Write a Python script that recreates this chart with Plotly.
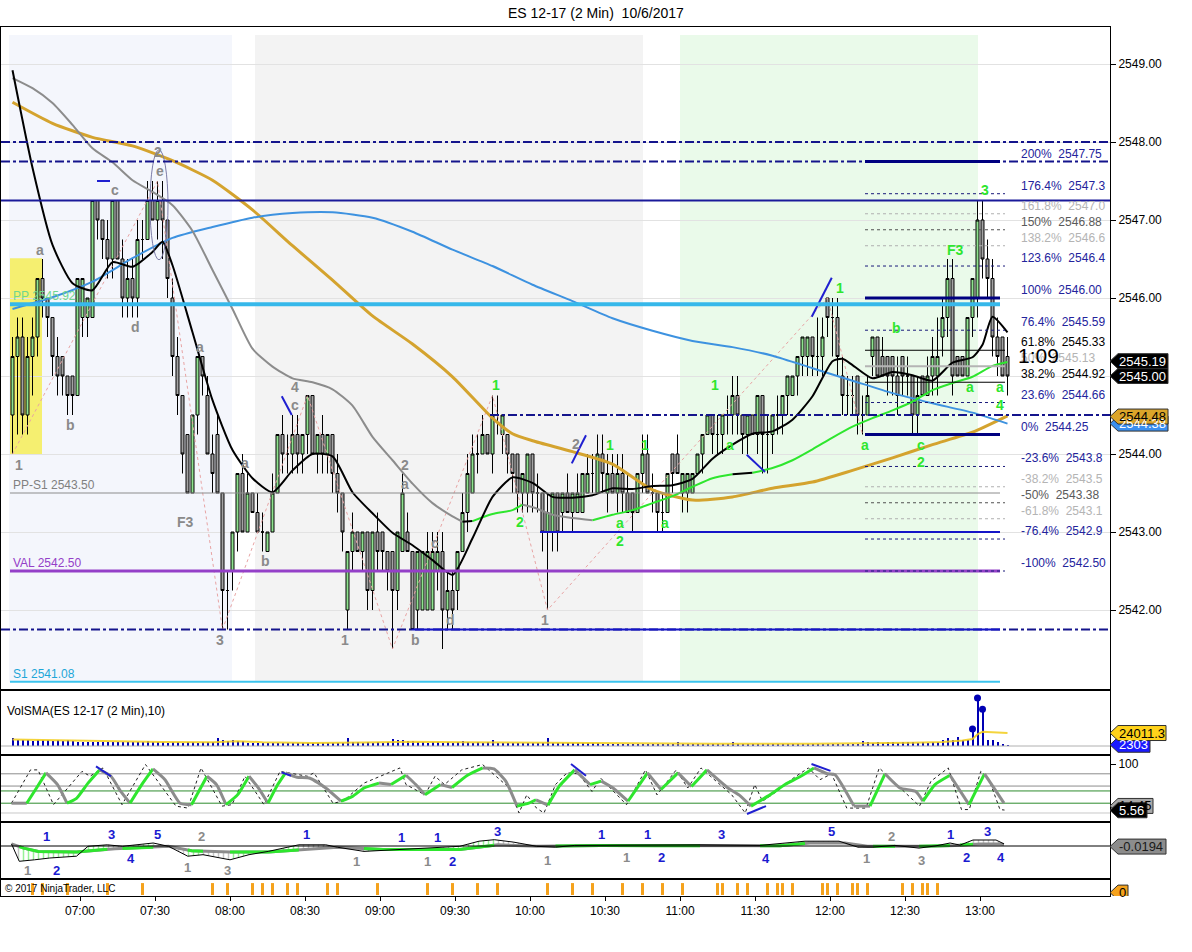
import numpy as np
import plotly.graph_objects as go
from plotly.subplots import make_subplots

FONT = "Liberation Sans, Arial, sans-serif"

# ---------------------------------------------------------------- data
opens = [
    2544.50, 2545.25, 2545.50, 2544.50, 2545.25, 2545.50, 2546.25, 2546.00, 2545.75, 2545.25,
    2545.25, 2545.00, 2545.00, 2544.75, 2545.75, 2545.75, 2545.75, 2547.25, 2547.00, 2546.75,
    2546.50, 2547.25, 2546.50, 2546.00, 2546.25, 2546.00, 2546.75, 2546.75, 2547.25, 2547.00,
    2547.25, 2547.00, 2546.00, 2545.25, 2544.75, 2544.25, 2543.50, 2544.50, 2545.25, 2544.75,
    2544.00, 2544.25, 2543.50, 2542.25, 2542.50, 2543.00, 2543.75, 2543.00, 2543.50, 2543.25,
    2543.00, 2542.75, 2543.00, 2543.50, 2544.25, 2544.00, 2544.00, 2544.25, 2544.00, 2544.25,
    2544.75, 2544.00, 2544.25, 2544.00, 2544.25, 2543.75, 2543.50, 2542.00, 2542.75, 2543.00,
    2542.75, 2543.00, 2542.25, 2543.00, 2543.00, 2542.75, 2542.75, 2542.25, 2542.75, 2543.00,
    2542.75, 2542.00, 2542.00, 2542.00, 2542.00, 2542.50, 2542.75, 2542.00, 2542.25, 2542.25,
    2542.75, 2543.25, 2543.50, 2544.00, 2544.00, 2544.25, 2544.00, 2544.50, 2544.25, 2544.25,
    2544.00, 2544.00, 2543.50, 2543.50, 2544.00, 2543.50, 2543.50, 2543.00, 2543.00, 2543.50,
    2543.25, 2543.50, 2543.25, 2543.25, 2543.25, 2543.50, 2543.75, 2543.50, 2544.00, 2543.50,
    2543.75, 2543.50, 2543.75, 2543.50, 2543.50, 2543.25, 2543.75, 2544.00, 2543.50, 2543.50,
    2543.25, 2543.25, 2544.00, 2544.00, 2543.50, 2543.50, 2543.50, 2543.75, 2544.00, 2544.25,
    2544.50, 2544.25, 2544.25, 2544.50, 2544.50, 2544.75, 2544.50, 2544.25, 2544.50, 2544.25,
    2544.75, 2544.25, 2544.25, 2544.50, 2544.50, 2544.75, 2544.75, 2545.00, 2545.25, 2545.25,
    2545.50, 2545.25, 2545.25, 2546.00, 2545.75, 2545.75, 2545.00, 2544.75, 2544.75, 2545.00,
    2544.50, 2544.50, 2545.25, 2545.50, 2545.25, 2545.25, 2545.25, 2545.00, 2545.25, 2545.00,
    2545.00, 2544.50, 2545.00, 2544.75, 2545.00, 2545.00, 2545.50, 2545.75, 2546.25, 2545.25,
    2545.25, 2545.00, 2545.75, 2546.00, 2547.00, 2546.50, 2546.25, 2545.50, 2545.50, 2545.25,
]
highs = [
    2545.50, 2545.75, 2545.75, 2545.50, 2545.75, 2546.25, 2546.50, 2546.00, 2545.75, 2545.50,
    2545.25, 2545.00, 2545.00, 2546.25, 2546.25, 2546.00, 2547.25, 2547.25, 2547.00, 2547.00,
    2547.25, 2547.25, 2546.75, 2546.50, 2546.50, 2547.00, 2547.00, 2547.50, 2547.50, 2547.50,
    2547.50, 2547.00, 2546.25, 2545.50, 2544.75, 2544.25, 2544.50, 2545.25, 2545.25, 2545.00,
    2544.25, 2544.50, 2543.50, 2542.50, 2543.00, 2543.75, 2544.00, 2543.75, 2543.50, 2543.50,
    2543.25, 2543.00, 2543.75, 2544.25, 2544.50, 2544.25, 2544.50, 2544.50, 2544.25, 2544.75,
    2544.75, 2544.25, 2544.50, 2544.25, 2544.25, 2544.00, 2543.50, 2542.75, 2543.25, 2543.00,
    2543.00, 2543.00, 2543.00, 2543.25, 2543.00, 2542.75, 2542.75, 2543.00, 2543.75, 2543.25,
    2542.75, 2542.75, 2542.75, 2543.00, 2543.00, 2543.00, 2543.00, 2542.50, 2542.50, 2542.75,
    2543.50, 2544.00, 2544.25, 2544.25, 2544.50, 2544.25, 2544.75, 2544.75, 2544.50, 2544.25,
    2544.00, 2544.00, 2543.75, 2544.00, 2544.00, 2543.75, 2543.50, 2543.50, 2543.50, 2543.50,
    2543.50, 2543.75, 2543.50, 2543.75, 2543.75, 2544.00, 2544.00, 2544.25, 2544.25, 2544.00,
    2544.00, 2544.00, 2544.00, 2543.75, 2543.50, 2543.75, 2544.25, 2544.25, 2543.75, 2543.50,
    2543.50, 2543.75, 2544.00, 2544.25, 2543.75, 2543.75, 2543.75, 2544.00, 2544.25, 2544.50,
    2544.50, 2544.50, 2544.50, 2544.75, 2545.00, 2545.00, 2544.50, 2544.50, 2544.50, 2544.75,
    2544.75, 2544.50, 2544.50, 2544.75, 2544.75, 2545.00, 2545.00, 2545.25, 2545.50, 2545.50,
    2545.50, 2545.75, 2545.75, 2546.00, 2546.00, 2546.00, 2545.25, 2545.00, 2545.00, 2545.00,
    2544.75, 2545.00, 2545.50, 2545.50, 2545.50, 2545.25, 2545.25, 2545.25, 2545.25, 2545.25,
    2545.00, 2545.00, 2545.00, 2545.25, 2545.50, 2545.75, 2546.00, 2546.50, 2546.50, 2545.25,
    2545.25, 2545.75, 2546.25, 2547.25, 2547.25, 2546.75, 2546.50, 2545.75, 2545.50, 2545.50,
]
lows = [
    2544.00, 2544.25, 2544.25, 2544.25, 2544.75, 2545.25, 2545.75, 2545.50, 2545.00, 2544.75,
    2544.75, 2544.50, 2544.50, 2544.75, 2545.50, 2545.50, 2545.75, 2546.75, 2546.50, 2546.25,
    2546.25, 2546.50, 2545.75, 2545.75, 2545.75, 2545.75, 2546.50, 2546.75, 2547.00, 2546.75,
    2546.50, 2546.00, 2545.00, 2544.50, 2543.75, 2543.50, 2543.50, 2544.25, 2544.75, 2544.00,
    2543.50, 2543.50, 2541.75, 2541.75, 2542.25, 2542.75, 2543.00, 2543.00, 2543.25, 2543.00,
    2542.75, 2542.75, 2543.00, 2543.50, 2543.75, 2543.75, 2543.75, 2543.75, 2543.75, 2544.00,
    2544.00, 2543.75, 2543.75, 2543.75, 2543.50, 2543.25, 2542.75, 2541.75, 2542.50, 2542.75,
    2542.50, 2542.00, 2542.00, 2542.50, 2542.50, 2542.25, 2541.50, 2542.00, 2542.75, 2542.75,
    2541.75, 2541.75, 2542.00, 2542.00, 2542.00, 2542.25, 2541.50, 2541.75, 2541.75, 2542.00,
    2542.75, 2543.00, 2543.50, 2543.75, 2544.00, 2544.00, 2543.75, 2544.25, 2544.00, 2543.75,
    2543.50, 2543.25, 2543.25, 2543.25, 2543.25, 2543.25, 2542.75, 2542.00, 2542.75, 2542.75,
    2543.00, 2543.25, 2543.00, 2543.25, 2543.25, 2543.50, 2543.50, 2543.50, 2543.50, 2543.25,
    2543.50, 2543.25, 2543.25, 2543.25, 2543.00, 2543.25, 2543.50, 2543.50, 2543.25, 2543.00,
    2543.00, 2543.25, 2543.50, 2543.75, 2543.25, 2543.25, 2543.50, 2543.75, 2543.75, 2544.25,
    2544.00, 2544.00, 2544.00, 2544.25, 2544.25, 2544.25, 2544.00, 2544.00, 2544.25, 2544.00,
    2543.75, 2543.75, 2544.00, 2544.25, 2544.25, 2544.50, 2544.75, 2544.75, 2545.00, 2545.00,
    2545.00, 2545.00, 2545.00, 2545.50, 2545.25, 2545.00, 2544.50, 2544.50, 2544.50, 2544.25,
    2544.25, 2544.50, 2545.00, 2545.00, 2545.00, 2544.75, 2544.75, 2544.50, 2544.75, 2544.75,
    2544.25, 2544.25, 2544.75, 2544.75, 2544.75, 2544.75, 2545.25, 2545.50, 2544.75, 2545.00,
    2545.00, 2545.00, 2545.50, 2545.75, 2546.25, 2546.00, 2545.25, 2545.00, 2545.00, 2544.75,
]
closes = [
    2545.25, 2545.50, 2544.50, 2545.25, 2545.50, 2546.25, 2546.00, 2545.75, 2545.25, 2545.00,
    2545.00, 2544.75, 2544.75, 2546.25, 2546.25, 2546.00, 2547.25, 2547.00, 2546.75, 2546.50,
    2547.25, 2546.50, 2546.00, 2546.25, 2546.00, 2546.75, 2546.75, 2547.25, 2547.00, 2547.25,
    2547.00, 2546.25, 2545.25, 2544.75, 2544.00, 2543.50, 2544.50, 2545.25, 2545.00, 2544.00,
    2543.75, 2543.50, 2542.25, 2542.25, 2543.00, 2543.75, 2543.00, 2543.50, 2543.25, 2543.00,
    2543.00, 2543.00, 2543.50, 2544.25, 2544.00, 2544.00, 2544.25, 2544.00, 2544.25, 2544.75,
    2544.00, 2544.25, 2544.00, 2544.25, 2543.75, 2543.50, 2543.00, 2542.75, 2543.00, 2542.75,
    2543.00, 2542.25, 2543.00, 2542.75, 2542.75, 2542.50, 2542.25, 2543.00, 2543.50, 2542.75,
    2541.75, 2542.75, 2542.75, 2542.75, 2542.75, 2542.75, 2542.00, 2542.25, 2542.00, 2542.75,
    2543.25, 2543.75, 2544.00, 2544.00, 2544.25, 2544.00, 2544.50, 2544.50, 2544.50, 2544.00,
    2543.75, 2543.50, 2543.75, 2544.00, 2543.50, 2543.50, 2543.00, 2543.25, 2543.50, 2543.00,
    2543.50, 2543.25, 2543.50, 2543.50, 2543.75, 2543.75, 2543.75, 2544.00, 2543.75, 2543.75,
    2543.50, 2543.75, 2543.50, 2543.25, 2543.25, 2543.75, 2544.00, 2543.50, 2543.50, 2543.25,
    2543.25, 2543.75, 2543.75, 2543.75, 2543.75, 2543.75, 2543.75, 2544.00, 2544.25, 2544.50,
    2544.25, 2544.25, 2544.50, 2544.50, 2544.75, 2544.50, 2544.25, 2544.50, 2544.25, 2544.75,
    2544.25, 2544.25, 2544.50, 2544.50, 2544.75, 2545.00, 2545.00, 2545.25, 2545.50, 2545.50,
    2545.25, 2545.25, 2545.50, 2545.75, 2545.75, 2545.25, 2544.75, 2544.75, 2544.75, 2544.50,
    2544.50, 2544.75, 2545.50, 2545.00, 2545.00, 2545.00, 2545.00, 2544.75, 2545.00, 2545.00,
    2544.50, 2544.75, 2544.75, 2545.00, 2545.25, 2545.25, 2545.75, 2546.25, 2545.00, 2545.00,
    2545.00, 2545.75, 2546.25, 2547.00, 2546.50, 2546.25, 2545.50, 2545.25, 2545.00, 2545.00,
]
volumes = [
    15000, 11000, 10500, 12000, 9800, 11500, 10200, 11000, 9500, 10800,
    10000, 11200, 9000, 7000, 7800, 6500, 8000, 7200, 6800, 7600,
    7000, 8200, 6900, 7400, 7100, 7800, 6600, 9500, 7000, 7400,
    6800, 6200, 6800, 7000, 6400, 6600, 7200, 6000, 6900, 6500,
    7100, 15000, 11000, 9800, 10500, 9500, 9000, 5400, 5800, 5000,
    5600, 5200, 5900, 5300, 5500, 5100, 5700, 5400, 6000, 5200,
    5600, 5800, 5500, 5000, 5800, 5300, 6000, 15500, 6500, 6800,
    6200, 7000, 6400, 6600, 6300, 7000, 13000, 10500, 11000, 10000,
    9000, 6500, 6800, 6200, 6600, 7000, 6300, 6700, 6400, 6900,
    9500, 6500, 6000, 6800, 6300, 6600, 11000, 5500, 5800, 5200,
    5600, 5400, 5900, 5300, 5700, 5100, 5500, 15000, 5000, 5300,
    4800, 5200, 5500, 4900, 5100, 5400, 4700, 5000, 3800, 3500,
    3900, 3600, 4000, 3400, 3700, 3900, 3500, 3800, 3600, 4100,
    3500, 3700, 3900, 6500, 3600, 3400, 3800, 3700, 4000, 3500,
    3600, 3900, 3700, 3500, 6500, 3800, 3600, 4000, 3400, 3700,
    3900, 3500, 3800, 3600, 4100, 3700, 3500, 3900, 3600, 3800,
    3700, 4000, 3500, 3800, 3600, 3900, 3700, 3500, 3800, 4500,
    9000, 6500, 6200, 6800, 6400, 6600, 7000, 6300, 6700, 6500,
    6900, 6200, 6600, 6400, 7000, 8000, 11000, 14000, 11000, 17000,
    11000, 11000, 31500, 89000, 68000, 11000, 11000, 7400, 3000, 2303,
]
volume_dot_bars = [192, 193, 194]

# moving averages: bar index -> value
ma_fast_idx = [0, 4, 8, 12, 16, 20, 24, 28, 30, 32, 36, 40, 44, 48, 52, 56, 60, 64, 68, 72,
               76, 80, 84, 88, 92, 96, 100, 104, 108, 112, 116, 120, 124, 128, 132, 136, 140, 144, 148, 152,
               156, 160, 164, 166, 168, 172, 176, 180, 184, 188, 192, 194, 196, 199]
ma_fast = [2548.92, 2547.67, 2546.68, 2546.19, 2546.10, 2546.46, 2546.40, 2546.59, 2546.72, 2546.42,
           2545.56, 2544.69, 2544.05, 2543.69, 2543.51, 2543.79, 2544.00, 2543.97, 2543.51, 2543.24,
           2542.99, 2542.83, 2542.64, 2542.45, 2542.92, 2543.45, 2543.70, 2543.63, 2543.45, 2543.44,
           2543.47, 2543.56, 2543.55, 2543.59, 2543.60, 2543.68, 2543.94, 2544.12, 2544.26, 2544.29,
           2544.44, 2544.74, 2545.19, 2545.22, 2545.14, 2544.97, 2545.05, 2545.01, 2544.94, 2545.17,
           2545.24, 2545.40, 2545.76, 2545.56]
ma_mid_idx = [0, 4, 8, 12, 16, 20, 24, 28, 32, 36, 40, 44, 48, 52, 56, 60, 64, 68, 72, 76,
              80, 84, 88, 90, 92, 96, 100, 102, 104, 108, 112, 116, 120, 124, 128, 132, 136, 140, 144, 148,
              152, 156, 160, 164, 168, 172, 176, 180, 184, 188, 192, 196, 199]
ma_mid = [2548.82, 2548.69, 2548.50, 2548.22, 2547.92, 2547.74, 2547.51, 2547.36, 2547.19, 2546.86,
          2546.36, 2545.86, 2545.35, 2545.12, 2544.97, 2544.92, 2544.83, 2544.62, 2544.22, 2543.92,
          2543.62, 2543.37, 2543.20, 2543.13, 2543.14, 2543.23, 2543.28, 2543.35, 2543.32, 2543.22,
          2543.18, 2543.15, 2543.22, 2543.28, 2543.37, 2543.46, 2543.58, 2543.69, 2543.74, 2543.76,
          2543.82, 2543.92, 2544.06, 2544.21, 2544.35, 2544.46, 2544.56, 2544.67, 2544.82, 2544.91,
          2544.99, 2545.13, 2545.18]
ma_blue_idx = [0, 8, 16, 24, 32, 40, 48, 56, 64, 72, 80, 88, 96, 104, 112, 120, 128, 136, 144, 152,
               160, 168, 176, 184, 192, 199]
ma_blue = [2545.86, 2546.01, 2546.21, 2546.51, 2546.77, 2546.91, 2547.03, 2547.09, 2547.10, 2547.03,
           2546.85, 2546.62, 2546.41, 2546.17, 2545.96, 2545.74, 2545.58, 2545.45, 2545.37, 2545.26,
           2545.10, 2544.94, 2544.78, 2544.65, 2544.53, 2544.39]
ma_gold_idx = [0, 8, 16, 24, 32, 40, 48, 56, 64, 72, 80, 88, 96, 100, 104, 112, 120, 128, 136, 144,
               152, 160, 168, 176, 184, 192, 199]
ma_gold = [2548.51, 2548.24, 2548.06, 2547.95, 2547.76, 2547.51, 2547.13, 2546.67, 2546.23, 2545.77,
           2545.41, 2544.99, 2544.46, 2544.26, 2544.17, 2544.03, 2543.87, 2543.54, 2543.41, 2543.45,
           2543.56, 2543.64, 2543.79, 2543.95, 2544.12, 2544.28, 2544.49]

# swing zigzag (bar index, price)
zz_idx = [0, 29, 42, 59, 76, 96, 107, 163, 170]
zz_price = [2544.00, 2547.50, 2541.75, 2544.75, 2541.50, 2544.75, 2542.00, 2546.00, 2544.25]

# wave labels (minute of day, price, text)
labels_gray = [(395.6, 2543.86, '1'), (404, 2546.62, 'a'), (416, 2544.37, 'b'), (434, 2547.38, 'c'),
               (442, 2545.63, 'd'), (451.2, 2547.87, '2'), (452, 2547.63, 'e'), (462, 2543.13, 'F3'),
               (468, 2545.37, 'a'), (476, 2541.62, '3'), (486, 2543.88, 'a'), (494, 2542.63, 'b'),
               (506, 2544.86, '4'), (506, 2544.63, 'c'), (526, 2541.62, '1'), (550, 2543.86, '2'),
               (550, 2543.62, 'a'), (554, 2541.62, 'b'), (562, 2542.86, 'c'), (568, 2541.87, 'd'),
               (606, 2541.87, '1'), (618.4, 2544.13, '2')]
labels_green = [(586.4, 2544.88, '1'), (596, 2543.13, '2'), (632, 2544.12, '1'), (646, 2544.12, '1'),
                (636, 2543.12, 'a'), (636, 2542.88, '2'), (654, 2543.12, 'a'), (674, 2544.88, '1'),
                (680, 2544.12, 'a'), (724, 2546.13, '1'), (746.4, 2545.62, 'b'), (734, 2544.12, 'a'),
                (756.4, 2544.12, 'c'), (756.4, 2543.90, '2'), (770, 2546.62, 'F3'), (782, 2547.38, '3'),
                (776, 2544.86, 'a'), (788, 2544.86, 'a'), (788, 2544.63, '4')]
# short blue trend marks on price panel ((t0, p0), (t1, p1))
price_marks = [((426.8, 2547.50), (432.0, 2547.50)), ((500.7, 2544.74), (504.7, 2544.50)),
               ((616.7, 2543.88), (622.4, 2544.24)), ((686.7, 2543.99), (694.0, 2543.77)),
               ((712.7, 2545.76), (720.7, 2546.26))]

# fibonacci levels
fib_pct = ['200%', '176.4%', '161.8%', '150%', '138.2%', '123.6%', '100%', '76.4%', '61.8%', '50%',
           '38.2%', '23.6%', '0%', '-23.6%', '-38.2%', '-50%', '-61.8%', '-76.4%', '-100%']
fib_text = ['2547.75', '2547.3', '2547.0', '2546.88', '2546.6', '2546.4', '2546.00', '2545.59', '2545.33',
            '2545.13', '2544.92', '2544.66', '2544.25', '2543.8', '2543.5', '2543.38', '2543.1', '2542.9',
            '2542.50']
fib_level = [2547.75, 2547.337, 2547.08, 2546.875, 2546.67, 2546.41, 2546.00, 2545.587, 2545.33, 2545.125,
             2544.92, 2544.66, 2544.25, 2543.84, 2543.58, 2543.375, 2543.17, 2542.91, 2542.50]
fib_kind = ['B', 'B', 'L', 'D', 'L', 'B', 'B', 'B', 'K', 'L', 'K', 'B', 'B', 'B', 'L', 'D', 'L', 'B', 'B']

# stochastics (minute of day, value)
stoch_t = [392.6, 398.7, 402.6, 406.4, 411, 414.8, 418.6, 423.2, 427.8, 432.4, 436.3, 440, 444.7, 449.2,
           454, 460, 464.6, 470.8, 474.6, 478.4, 483, 487.6, 491.4, 495.2, 499.1, 502.2, 506.8, 512,
           518.3, 524.4, 529, 533.6, 539.6, 544.4, 550.4, 554.3, 558, 564.2, 568.8, 575, 581.1, 585.6,
           590.3, 594.8, 599.5, 602.4, 607.2, 611.6, 617.9, 624, 628.5, 633.2, 639.2, 647, 652.4, 659.2,
           664.6, 670.8, 679.2, 683.6, 688.4, 696, 702, 708.3, 713.6, 719, 722, 729.6, 736, 742, 748,
           754.3, 757.2, 762, 768, 775.6, 781.8, 789.6]
stoch_k = [20, 20, 51, 82, 58, 20, 30, 61, 88, 75, 44, 20, 58, 90, 68, 20, 17, 75, 58, 17, 37, 75, 51, 20,
           58, 82, 73, 71, 51, 24, 34, 51, 61, 58, 77, 58, 37, 58, 52, 77, 92, 90, 65, 14, 20, 27, 16, 54,
           88, 58, 65, 51, 24, 82, 48, 82, 54, 88, 51, 37, 14, 37, 58, 75, 92, 80, 78, 14, 14, 80, 51, 44,
           24, 58, 77, 17, 80, 20]
stoch_raw_t = [392.6, 400.2, 403.2, 409.4, 420.8, 424, 429.2, 436.8, 446.2, 458.4, 463.2, 468.4, 476.8,
               480.8, 486, 493.6, 500, 511, 513.6, 521.2, 525.2, 533.6, 548, 550.4, 558, 562, 565.8, 572.7,
               581, 591.8, 595.6, 598.7, 602.6, 605.6, 610.2, 614.8, 619.4, 624.8, 628.3, 638.6, 646.2,
               650.8, 658.5, 663.1, 668.4, 680.7, 686.1, 689.9, 693, 699, 705, 711.4, 716, 720.6, 726.7,
               734.4, 739.7, 746.6, 749.7, 755.8, 760.4, 767.3, 772.6, 775.7, 780.3, 783.4, 788, 789.8]
stoch_raw = [20, 88, 88, 17, 85, 75, 92, 17, 99, 14, 10, 92, 14, 17, 75, 17, 85, 75, 82, 20, 24, 61, 92, 58,
             37, 75, 58, 88, 99, 51, 0, 37, 10, 0, 58, 82, 80, 44, 71, 17, 88, 37, 88, 51, 92, 37, 0, 58,
             24, 45, 70, 92, 68, 80, 10, 10, 92, 58, 44, 14, 65, 92, 7, 7, 85, 71, 7, 6]
stoch_marks = [((426.4, 95), (432.4, 75)), ((500.6, 83), (504.4, 76)), ((616.4, 100), (622.4, 76)),
               ((686.8, -2), (694.4, 14)), ((712.6, 100), (720.2, 86))]
stoch_levels = [(80, '#8c8c8c'), (55, '#8c8c8c'), (45, '#2e8b2e'), (20, '#2e8b2e'), (0, '#c8c8c8')]

# MACD-style oscillator (minute of day, value)
macd_t = [392.6, 395.7, 401.8, 407.9, 418.6, 423.2, 430.9, 437, 449.3, 455.4, 463.1, 469.2, 480, 487.6,
          495.3, 507.5, 518.3, 522.9, 533.6, 545.8, 556.6, 571.9, 579.6, 585.7, 593.4, 602.6, 610.2, 617.9,
          636, 668, 692, 710, 723.6, 731.2, 737.2, 746, 755.6, 762, 768, 772, 777.2, 786.4, 789.6]
macd_v = [0.07, -0.51, -0.46, -0.40, -0.34, -0.01, 0.04, -0.01, 0.10, -0.01, -0.34, -0.29, -0.46, -0.29,
          -0.18, 0.04, 0.04, -0.04, -0.18, -0.12, -0.07, -0.01, 0.16, 0.21, 0.13, -0.01, -0.04, 0.02,
          0.03, 0.04, 0.02, 0.16, 0.16, -0.04, -0.04, 0.02, -0.07, 0.0, 0.10, 0.03, 0.20, 0.20, 0.07]
signal_t = [392.6, 397.5, 403.3, 418.6, 434, 449.3, 455.4, 464.6, 480, 495.3, 510.6, 522.9, 541.2, 556.6,
            571.9, 587.2, 602.6, 628.3, 650, 700, 712, 726, 735, 760, 770, 780, 788, 789.6]
signal_v = [0.07, -0.07, -0.18, -0.2, -0.09, -0.04, -0.01, -0.16, -0.2, -0.2, -0.12, -0.04, -0.12, -0.12,
            -0.12, 0.04, -0.01, 0.02, 0.01, 0.01, 0.10, 0.10, -0.01, -0.01, 0.02, 0.07, 0.07, 0.05]
macd_labels = [(406.4, 0.33, '1', 'B'), (410.4, -0.80, '2', 'B'), (432.4, 0.37, '3', 'B'), (440.4, -0.43, '4', 'B'),
               (450.8, 0.37, '5', 'B'), (510.4, 0.37, '1', 'B'), (548.4, 0.30, '1', 'B'), (562.8, 0.30, '1', 'B'),
               (568.8, -0.50, '2', 'B'), (586.8, 0.50, '3', 'B'), (628.4, 0.37, '1', 'B'), (646.8, 0.37, '1', 'B'),
               (652.4, -0.37, '2', 'B'), (676.4, 0.40, '3', 'B'), (694.4, -0.40, '4', 'B'), (720.4, 0.47, '5', 'B'),
               (768.0, 0.40, '1', 'B'), (782.8, 0.50, '3', 'B'), (774.4, -0.37, '2', 'B'), (788.4, -0.37, '4', 'B'),
               (398.8, -0.83, '1', 'G'), (468.4, 0.33, '2', 'G'), (462.8, -0.73, '1', 'G'), (478.8, -0.80, '3', 'G'),
               (530.4, -0.50, '1', 'G'), (558.8, -0.50, '1', 'G'), (606.8, -0.47, '1', 'G'), (638.4, -0.37, '1', 'G'),
               (744.4, 0.33, '2', 'G'), (734.4, -0.43, '1', 'G'), (756.4, -0.47, '3', 'G')]

# bars that carry an orange signal mark in the bottom strip
signal_bars = [4, 6, 11, 19, 26, 40, 43, 48, 50, 52, 55, 57, 63, 65, 73, 83, 88, 93, 97, 107, 112, 116,
               122, 126, 130, 134, 141, 142, 145, 147, 151, 153, 154, 156, 162, 163, 165, 168, 169, 171,
               178, 180, 182, 183, 185]

# volume SMA samples (bar index, value)
vol_sma_idx = [0, 10, 20, 30, 40, 45, 50, 60, 70, 80, 90, 100, 110, 120, 140, 160, 170, 180, 186, 190,
               192, 193, 194, 196, 199]
vol_sma = [12000, 10500, 7800, 7200, 7000, 9000, 7000, 5500, 6500, 8000, 7000, 6500, 6200, 4500, 4000,
           4000, 4500, 6000, 7500, 10000, 13000, 21500, 26500, 25500, 24011.3]

x_tick_minutes = [420, 450, 480, 510, 540, 570, 600, 630, 660, 690, 720, 750, 780]
x_tick_text = ['07:00', '07:30', '08:00', '08:30', '09:00', '09:30', '10:00', '10:30', '11:00',
               '11:30', '12:00', '12:30', '13:00']
price_ticks = [2542, 2543, 2544, 2545, 2546, 2547, 2548, 2549]

# ---------------------------------------------------------------- geometry / layout constants
W, H = 1192, 952
ML, MR, MT, MB = 1, 82, 27, 56
PLOT_W = W - ML - MR
PLOT_H = H - MT - MB
XR = [388.4, 388.4 + PLOT_W / 2.5]
FIRST_BAR_MIN = 393
BAR_STEP = 2
bar_times = [FIRST_BAR_MIN + BAR_STEP * i for i in range(len(closes))]


def bt(i):
    return FIRST_BAR_MIN + BAR_STEP * i


panels = [(27, 690), (690, 755), (755, 822), (822, 879), (879, 896)]


def dom(a, b):
    base = H - MB
    return [(base - b) / PLOT_H, (base - a) / PLOT_H]


def paper_x(px):
    return (px - ML) / PLOT_W


def paper_y(py):
    return (H - MB - py) / PLOT_H


Y_MAIN = [2549 - (690 - 64) / 78, 2549 + (64 - 27) / 78]
Y_VOL = [-9 * 1850, 56 * 1850]
Y_STO = [-18.4, 118.4]
Y_MACD = [-1.1, 0.8]
Y_MRK = [0, 1]

C_GREEN = '#2ee62e'
C_GRAY = '#8c8c8c'
C_NAVY = '#14148c'

fig = make_subplots(rows=5, cols=1, shared_xaxes=True, vertical_spacing=0)
shapes = []
annotations = []

# ---------------------------------------------------------------- background regions
for t0, t1, col in [(391.6, 480.8, '#f4f6fc'), (490.0, 645.2, '#f3f3f3'), (660.0, 779.2, '#eafaea')]:
    shapes.append(dict(type='rect', xref='x', yref='y domain', x0=t0, x1=t1, y0=0.012, y1=0.988,
                       fillcolor=col, line=dict(width=0), layer='below'))
shapes.append(dict(type='rect', xref='x', yref='y', x0=392.0, x1=404.8, y0=2543.99, y1=2546.51,
                   fillcolor='#f5ef70', line=dict(width=0), layer='below'))

# ---------------------------------------------------------------- price panel traces
fig.add_trace(go.Candlestick(
    x=bar_times, open=opens, high=highs, low=lows, close=closes,
    increasing=dict(fillcolor='#8fe38f', line=dict(color='#000000', width=1)),
    decreasing=dict(fillcolor='#a3a3a3', line=dict(color='#000000', width=1)),
    whiskerwidth=0, showlegend=False, hoverinfo='skip'), row=1, col=1)

# zigzag
fig.add_trace(go.Scatter(x=[bt(i) for i in zz_idx], y=zz_price, mode='lines',
                         line=dict(color='#e8a4a4', width=1, dash='dot'), hoverinfo='skip'), row=1, col=1)


def add_line(idx, vals, color, width, row=1):
    fig.add_trace(go.Scatter(x=[bt(i) for i in idx], y=vals, mode='lines',
                             line=dict(color=color, width=width, shape='spline', smoothing=0.6),
                             hoverinfo='skip'), row=row, col=1)


add_line(ma_gold_idx, ma_gold, '#d4a32e', 3)
add_line(ma_blue_idx, ma_blue, '#3d92e0', 2)


def slope_runs(ts, vs, tol):
    runs = []
    def sgn(k):
        d = vs[k + 1] - vs[k]
        return 1 if d > tol else (-1 if d < -tol else 0)
    cur = sgn(0)
    start = 0
    for k in range(1, len(ts) - 1):
        s = sgn(k)
        if s != cur:
            runs.append((cur, start, k))
            start, cur = k, s
    runs.append((cur, start, len(ts) - 1))
    return runs


mid_t = [bt(i) for i in ma_mid_idx]
for s, a, b in slope_runs(mid_t, ma_mid, 0.025):
    col = C_GREEN if s > 0 else (C_GRAY if s < 0 else '#000000')
    fig.add_trace(go.Scatter(x=mid_t[a:b + 1], y=ma_mid[a:b + 1], mode='lines',
                             line=dict(color=col, width=2, shape='spline', smoothing=0.6),
                             hoverinfo='skip'), row=1, col=1)

add_line(ma_fast_idx, ma_fast, '#000000', 2)

# short blue trend marks
for (t0, p0), (t1, p1) in price_marks:
    fig.add_trace(go.Scatter(x=[t0, t1], y=[p0, p1], mode='lines', line=dict(color='#1f1fd0', width=2),
                             hoverinfo='skip'), row=1, col=1)

# ellipse around wave 2
shapes.append(dict(type='circle', xref='x', yref='y', x0=448.0, x1=455.2, y0=2546.49, y1=2547.90,
                   line=dict(color='#7c7ca8', width=1)))

# horizontal levels
XMIN, XMAX = XR
levels = [
    (2548.00, XMIN, XMAX, C_NAVY, 2, 'dashdot'),
    (2547.75, XMIN, XMAX, C_NAVY, 2, 'dashdot'),
    (2547.25, XMIN, XMAX, '#1a1a9a', 2, 'solid'),
    (2545.92, 392.0, 788.0, '#36b8ea', 4, 'solid'),
    (2544.50, 584.0, XMAX, C_NAVY, 2, 'dashdot'),
    (2543.50, 392.0, 788.0, '#8c8c8c', 1, 'solid'),
    (2543.00, 604.0, 788.0, '#1414c8', 2, 'solid'),
    (2542.50, 392.0, 788.0, '#9440c8', 3, 'solid'),
    (2541.75, XMIN, XMAX, C_NAVY, 2, 'dashdot'),
    (2541.75, 552.8, 788.0, '#1414c8', 2, 'solid'),
    (2541.08, 392.0, 788.0, '#3cc4ee', 2, 'solid'),
]
for p, t0, t1, col, w, dash in levels:
    shapes.append(dict(type='line', xref='x', yref='y', x0=t0, x1=t1, y0=p, y1=p,
                       line=dict(color=col, width=w, dash=dash)))

# fibonacci lines
kind_color = {'B': '#23239c', 'K': '#000000', 'D': '#5a5a5a', 'L': '#b4b4b4'}
for pct, txt, lv, kd in zip(fib_pct, fib_text, fib_level, fib_kind):
    if pct in ('200%', '100%', '0%'):
        shapes.append(dict(type='line', xref='x', yref='y', x0=734.0, x1=788.0, y0=lv, y1=lv,
                           line=dict(color='#000080', width=3)))
    elif pct in ('61.8%', '38.2%'):
        shapes.append(dict(type='line', xref='x', yref='y', x0=734.0, x1=790.0, y0=lv, y1=lv,
                           line=dict(color='#000000', width=1)))
    elif pct == '50%':
        shapes.append(dict(type='line', xref='x', yref='y', x0=734.0, x1=790.0, y0=lv, y1=lv,
                           line=dict(color='#b4b4b4', width=2)))
    else:
        lc = {'B': '#1a1a7a', 'K': '#000000', 'D': '#505050', 'L': '#b0b0b0'}[kd]
        shapes.append(dict(type='line', xref='x', yref='y', x0=734.0, x1=790.0, y0=lv, y1=lv,
                           line=dict(color=lc, width=1, dash='dot')))
    annotations.append(dict(xref='x', yref='y', x=796.0, y=lv, xanchor='left', yanchor='bottom',
                            text=pct + '\u00a0\u00a0' + txt, showarrow=False, borderpad=0,
                            font=dict(family=FONT, size=12, color=kind_color[kd])))

annotations.append(dict(xref='x', yref='y', x=803.2, y=2545.26, text='1:09', showarrow=False,
                        font=dict(family=FONT, size=21, color='#000000')))

# left level labels
for p, txt, col in [(2545.92, 'PP 2545.92', '#6fd68f'), (2543.50, 'PP-S1 2543.50', '#808080'),
                    (2542.50, 'VAL 2542.50', '#9440c8'), (2541.08, 'S1 2541.08', '#1ea6d8')]:
    annotations.append(dict(xref='x', yref='y', x=392.8, y=p, xanchor='left', yanchor='bottom',
                            text=txt, showarrow=False, borderpad=0,
                            font=dict(family=FONT, size=12, color=col)))

# wave labels
for t, p, txt in labels_gray:
    annotations.append(dict(xref='x', yref='y', x=t, y=p, text='<b>' + txt + '</b>', showarrow=False,
                            font=dict(family=FONT, size=14, color='#8a8a8a')))
for t, p, txt in labels_green:
    annotations.append(dict(xref='x', yref='y', x=t, y=p, text='<b>' + txt + '</b>', showarrow=False,
                            font=dict(family=FONT, size=14, color=C_GREEN)))

# ---------------------------------------------------------------- volume panel
fig.add_trace(go.Bar(x=bar_times, y=volumes, width=0.8, marker=dict(color='#0000b4', line=dict(width=0)),
                     hoverinfo='skip'), row=2, col=1)
fig.add_trace(go.Scatter(x=[bt(i) for i in volume_dot_bars], y=[volumes[i] for i in volume_dot_bars],
                         mode='markers', marker=dict(color='#0000b4', size=7), hoverinfo='skip'), row=2, col=1)
fig.add_trace(go.Scatter(x=[bt(i) for i in vol_sma_idx], y=vol_sma, mode='lines',
                         line=dict(color='#f2cc1a', width=2), opacity=0.85, hoverinfo='skip'), row=2, col=1)
shapes.append(dict(type='line', xref='x2 domain', yref='y2', x0=0, x1=1, y0=0, y1=0,
                   line=dict(color='#b0b0b0', width=1)))
annotations.append(dict(xref='paper', yref='paper', x=paper_x(5), y=paper_y(711), xanchor='left',
                        yanchor='middle', text='VolSMA(ES 12-17 (2 Min),10)', showarrow=False,
                        font=dict(family=FONT, size=12, color='#000000')))

# ---------------------------------------------------------------- stochastic panel
for lv, col in stoch_levels:
    shapes.append(dict(type='line', xref='x3 domain', yref='y3', x0=0, x1=1, y0=lv, y1=lv,
                       line=dict(color=col, width=1), layer='below'))
fig.add_trace(go.Scatter(x=stoch_raw_t, y=stoch_raw, mode='lines',
                         line=dict(color='#202020', width=1, dash='dot'), hoverinfo='skip'), row=3, col=1)
for s, a, b in slope_runs(stoch_t, stoch_k, 0.0):
    col = C_GREEN if s > 0 else C_GRAY
    fig.add_trace(go.Scatter(x=stoch_t[a:b + 1], y=stoch_k[a:b + 1], mode='lines',
                             line=dict(color=col, width=3, shape='spline', smoothing=0.5),
                             hoverinfo='skip'), row=3, col=1)
for (t0, v0), (t1, v1) in stoch_marks:
    fig.add_trace(go.Scatter(x=[t0, t1], y=[v0, v1], mode='lines', line=dict(color='#1f1fd0', width=2),
                             hoverinfo='skip'), row=3, col=1)

# ---------------------------------------------------------------- MACD panel
shapes.append(dict(type='line', xref='x4 domain', yref='y4', x0=0, x1=1, y0=0, y1=0,
                   line=dict(color='#000000', width=1)))
for s, a, b in slope_runs(macd_t, macd_v, 0.0):
    col = C_GREEN if s > 0 else C_GRAY
    xs = list(macd_t[a:b + 1])
    top = list(macd_v[a:b + 1])
    bot = list(np.interp(xs, signal_t, signal_v))
    fig.add_trace(go.Scatter(x=xs + xs[::-1], y=top + bot[::-1], mode='lines', fill='toself',
                             line=dict(width=0), fillcolor='rgba(0,0,0,0)',
                             fillpattern=dict(shape='|', fgcolor=col, bgcolor='rgba(0,0,0,0)',
                                              size=5, solidity=0.3),
                             hoverinfo='skip'), row=4, col=1)
fig.add_trace(go.Scatter(x=signal_t, y=signal_v, mode='lines', line=dict(color=C_GRAY, width=3),
                         hoverinfo='skip'), row=4, col=1)
for s, a, b in slope_runs(macd_t, macd_v, 0.0):
    if s <= 0:
        continue
    t0, t1 = macd_t[a], macd_t[b]
    xs = [t0] + [t for t in signal_t if t0 < t < t1] + [t1]
    ys = list(np.interp(xs, signal_t, signal_v))
    fig.add_trace(go.Scatter(x=xs, y=ys, mode='lines', line=dict(color=C_GREEN, width=3),
                             hoverinfo='skip'), row=4, col=1)
fig.add_trace(go.Scatter(x=macd_t, y=macd_v, mode='lines', line=dict(color='#000000', width=1),
                         hoverinfo='skip'), row=4, col=1)
for t, v, txt, kd in macd_labels:
    annotations.append(dict(xref='x4', yref='y4', x=t, y=v, text='<b>' + txt + '</b>', showarrow=False,
                            font=dict(family=FONT, size=13, color='#1a1ad0' if kd == 'B' else '#8a8a8a')))

# ---------------------------------------------------------------- signal strip
mx, my = [], []
for i in signal_bars:
    mx += [bt(i), bt(i), None]
    my += [0.06, 0.76, None]
fig.add_trace(go.Scatter(x=mx, y=my, mode='lines', line=dict(color='#f5a21c', width=3),
                         hoverinfo='skip'), row=5, col=1)
annotations.append(dict(xref='paper', yref='paper', x=paper_x(3), y=paper_y(888), xanchor='left',
                        yanchor='middle', text='\u00a9 2017 NinjaTrader, LLC', showarrow=False,
                        font=dict(family=FONT, size=10, color='#000000')))

# ---------------------------------------------------------------- right-hand value tags


def tag(yref, y, half, text, bg, fg, width=58):
    x0 = paper_x(1110)
    xt = paper_x(1118)
    x1 = paper_x(1110 + width)
    path = 'M {a},{y} L {b},{t} L {c},{t} L {c},{u} L {b},{u} Z'.format(
        a=x0, b=xt, c=x1, y=y, t=y + half, u=y - half)
    shapes.append(dict(type='path', xref='paper', yref=yref, path=path, fillcolor=bg,
                       line=dict(color='#303030', width=1)))
    annotations.append(dict(xref='paper', yref=yref, x=xt, y=y, xanchor='left', yanchor='middle',
                            text=text, showarrow=False, borderpad=0,
                            font=dict(family=FONT, size=13, color=fg)))


h_main = 7.5 / 78
tag('y', 2544.39, h_main, '2544.38', '#3a8ff0', '#ffffff')
tag('y', 2544.48, h_main, '2544.48', '#dba52a', '#000000')
tag('y', 2545.00, h_main, '2545.00', '#000000', '#ffffff')
tag('y', 2545.19, h_main, '2545.19', '#000000', '#ffffff')
tag('y2', 2303, 7.5 * 1850, '2303', '#1a1aff', '#ffffff', width=40)
tag('y2', 24011.3, 7.5 * 1850, '24011.3', '#ffd21a', '#000000', width=56)
tag('y3', 14.4, 7.5 / 0.49, '14.45', '#a8a8a8', '#000000', width=43)
tag('y3', 5.56, 7.5 / 0.49, '5.56', '#000000', '#ffffff', width=37)
tag('y4', -0.0194, 7.5 * 0.0333, '-0.0194', '#8c8c8c', '#1a1a1a', width=56)
tag('y5', 0.2, 7.5 / 17, '0', '#f5a21c', '#000000', width=18)

annotations.append(dict(xref='paper', yref='paper', x=paper_x(596), y=paper_y(13), xanchor='center',
                        yanchor='middle', text='ES 12-17 (2 Min)\u00a0\u00a010/6/2017', showarrow=False,
                        font=dict(family=FONT, size=14, color='#000000')))

# ---------------------------------------------------------------- axes
yranges = [Y_MAIN, Y_VOL, Y_STO, Y_MACD, Y_MRK]
for r in range(1, 6):
    a, b = panels[r - 1]
    xa = 'xaxis' if r == 1 else 'xaxis%d' % r
    ya = 'yaxis' if r == 1 else 'yaxis%d' % r
    fig.layout[xa].update(range=XR, showline=True, linecolor='#000000', linewidth=1, mirror=True,
                          showgrid=False, zeroline=False, rangeslider=dict(visible=False),
                          showticklabels=(r == 5), ticks='outside' if r == 5 else '',
                          ticklen=4, tickcolor='#000000',
                          tickvals=x_tick_minutes, ticktext=x_tick_text,
                          tickfont=dict(family=FONT, size=12, color='#000000'))
    fig.layout[ya].update(domain=dom(a, b), range=yranges[r - 1], side='right', showline=True,
                          linecolor='#000000', linewidth=1, mirror=True, zeroline=False,
                          showgrid=False, showticklabels=False, ticks='')

fig.layout.yaxis.update(showgrid=True, gridcolor='#e2e2e2', gridwidth=1, showticklabels=True,
                        ticks='outside', ticklen=5, tickcolor='#000000', tickvals=price_ticks,
                        ticktext=['%.2f' % v for v in price_ticks],
                        tickfont=dict(family=FONT, size=12, color='#000000'))
fig.layout.yaxis3.update(showticklabels=True, ticks='outside', ticklen=5, tickcolor='#000000',
                         tickvals=[100], ticktext=['100'],
                         tickfont=dict(family=FONT, size=12, color='#000000'))

fig.update_layout(width=W, height=H, margin=dict(l=ML, r=MR, t=MT, b=MB),
                  paper_bgcolor='#ffffff', plot_bgcolor='#ffffff', showlegend=False, hovermode=False,
                  boxgap=0.15, bargap=0, font=dict(family=FONT, size=12, color='#000000'),
                  shapes=shapes, annotations=annotations)

fig.write_html('out.html', config={'displayModeBar': False, 'staticPlot': True},
               post_script="document.body.style.margin='0px';document.body.style.padding='0px';"
                           "document.documentElement.style.overflow='hidden';")
